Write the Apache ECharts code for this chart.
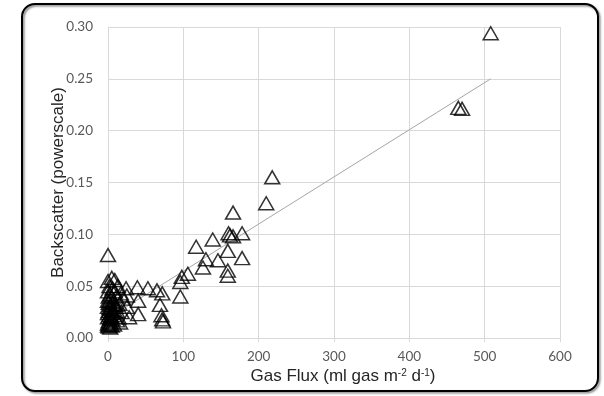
<!DOCTYPE html>
<html>
<head>
<meta charset="utf-8">
<script src="https://cdn.jsdelivr.net/npm/echarts@6/dist/echarts.min.js"></script>
<style>
  html, body { margin: 0; padding: 0; background: #fff; }
  #chart { width: 604px; height: 396px; }
</style>
</head>
<body>
<div id="chart"></div>
<script>
// gas flux (x) vs backscatter (y)
var fluxVals = [
  508, 465, 470, 218, 210, 166, 160, 162, 166, 178, 139, 117, 159, 178, 146, 130, 126, 159, 159,
  106, 98, 96, 96, 72, 65, 69, 71, 72, 73, 53, 39, 40, 40, 24, 25, 25, 28,
  0, 9, 5, 0, 2, 13, 6, 9, 17, 20, 3, 0, 11, 7, 15, 10, 12, 8, 14, 18, 16,
  0, 1, 2, 3, 0, 4, 1, 5, 2, 0, 3, 6, 1, 4, 0, 2, 5, 1, 3, 0, 12, 8, 4, 2, 6, 10, 1, 0
];
var backscatterVals = [
  0.294, 0.222, 0.221, 0.155, 0.130, 0.121, 0.101, 0.099, 0.098, 0.101, 0.095, 0.088, 0.084, 0.077, 0.075, 0.076, 0.068, 0.065, 0.060,
  0.062, 0.059, 0.054, 0.040, 0.043, 0.046, 0.032, 0.022, 0.018, 0.016, 0.048, 0.049, 0.036, 0.023, 0.048, 0.041, 0.030, 0.020,
  0.080, 0.056, 0.058, 0.055, 0.050, 0.050, 0.048, 0.045, 0.043, 0.038, 0.042, 0.036, 0.040, 0.035, 0.033, 0.030, 0.026, 0.022, 0.020, 0.025, 0.015,
  0.045, 0.040, 0.036, 0.032, 0.030, 0.028, 0.026, 0.024, 0.022, 0.020, 0.019, 0.018, 0.016, 0.015, 0.014, 0.013, 0.012, 0.011, 0.010, 0.012, 0.017, 0.013, 0.021, 0.029, 0.027, 0.032, 0.034, 0.024
];
// linear trend line end points
var trendX = [0, 508];
var trendY = [0.019, 0.250];

var points = fluxVals.map(function (x, i) { return [x, backscatterVals[i]]; });
var trend = trendX.map(function (x, i) { return [x, trendY[i]]; });

var chart = echarts.init(document.getElementById('chart'));
chart.setOption({
  animation: false,
  backgroundColor: '#fff',
  graphic: [{
    type: 'rect',
    shape: { x: 22, y: 4, width: 576, height: 387, r: 13 },
    style: { fill: 'none', stroke: '#000', lineWidth: 2,
      shadowColor: 'rgba(0,0,0,0.5)', shadowBlur: 2, shadowOffsetX: 1.5, shadowOffsetY: 1.5 },
    z: 10
  }],
  grid: { left: 108, right: 44, top: 27, bottom: 58 },
  xAxis: {
    type: 'value', min: 0, max: 600, interval: 100,
    name: 'Gas Flux (ml gas m{s|-2} d{s|-1})',
    nameLocation: 'middle', nameGap: 30, nameMoveOverlap: false,
    nameTextStyle: {
      fontFamily: 'Liberation Sans', fontSize: 17, color: '#262626', padding: [0, 0, 0, 18],
      rich: { s: { fontSize: 10, fontFamily: 'Liberation Sans', color: '#262626', verticalAlign: 'top', padding: [0, 0, 7, 0] } }
    },
    axisLine: { show: true, lineStyle: { color: '#d9d9d9' } },
    axisTick: { show: true, length: 4, lineStyle: { color: '#d9d9d9' } },
    axisLabel: { fontFamily: 'Lato', fontSize: 13.5, color: '#595959', margin: 12 },
    splitLine: { show: true, lineStyle: { color: '#d9d9d9' } }
  },
  yAxis: {
    type: 'value', min: 0, max: 0.3, interval: 0.05,
    name: 'Backscatter (powerscale)',
    nameLocation: 'middle', nameGap: 41, nameMoveOverlap: false,
    nameTextStyle: { fontFamily: 'Liberation Sans', fontSize: 17, color: '#262626' },
    axisLine: { show: true, lineStyle: { color: '#d9d9d9' } },
    axisTick: { show: false },
    axisLabel: { fontFamily: 'Lato', fontSize: 13.5, color: '#595959', margin: 15,
      formatter: function (v) { return v.toFixed(2); } },
    splitLine: { show: true, lineStyle: { color: '#d9d9d9' } }
  },
  series: [{
    type: 'line',
    data: trend,
    symbol: 'none',
    lineStyle: { color: '#a6a6a6', width: 1 },
    z: 1
  }, {
    type: 'scatter',
    data: points,
    symbol: 'triangle',
    symbolSize: [15, 13],
    itemStyle: { color: 'rgba(0,0,0,0)', borderColor: '#000', borderWidth: 1.5 },
    z: 2
  }]
});
</script>
</body>
</html>
